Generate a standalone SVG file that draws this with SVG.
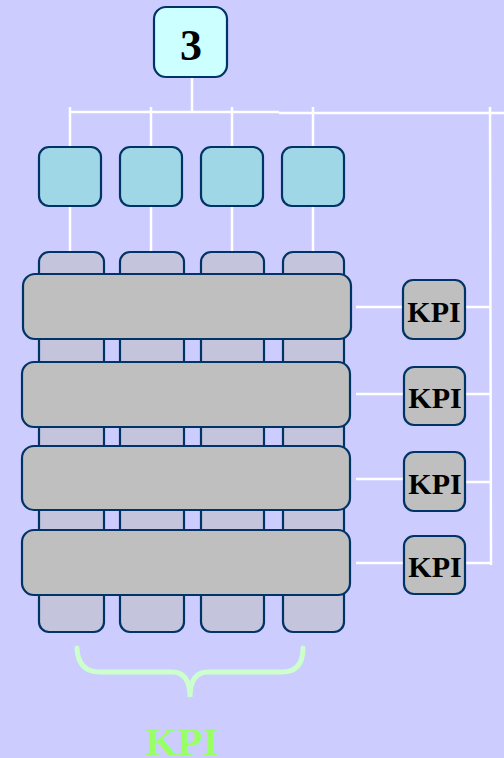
<svg xmlns="http://www.w3.org/2000/svg" width="504" height="758" viewBox="0 0 504 758">
<style>
.node{stroke:#003366;stroke-width:2.2}
.top{fill:#ccffff}
.blue{fill:#9fd7e6}
.col{fill:#c4c4dc}
.bar{fill:#bfbfbf}
.kpi{fill:#bfbfbf}
.wire{stroke:#ffffff;stroke-width:2.5;fill:none}
.t{font-family:"Liberation Serif","Times New Roman",serif;font-weight:bold;text-anchor:middle}
</style>
<rect x="0" y="0" width="504" height="758" fill="#ccccff"/>
<g id="connectors">
<path class="wire" d="M192 77V112M70 112H279M279 113H504M70 107V147M151 107V153M232 107V153M313 107V153M490 107L491 565"/>
<path class="wire" d="M70 206V253M151 206V253M232 206V253M313 206V253"/>
<path class="wire" d="M356 307H403M356 394H403M356 479H403M356 563H403"/>
<path class="wire" d="M458 307H490M458 394H490M458 482H490M458 563H490"/>
</g>
<g id="node-3"><rect class="node top" x="154" y="7" width="73" height="70" rx="12"/><text class="t" x="191" y="60" font-size="44">3</text></g>
<g id="node-b1"><rect class="node blue" x="39" y="147" width="62" height="59" rx="10"/></g>
<g id="node-b2"><rect class="node blue" x="120" y="147" width="62" height="59" rx="10"/></g>
<g id="node-b3"><rect class="node blue" x="201" y="147" width="62" height="59" rx="10"/></g>
<g id="node-b4"><rect class="node blue" x="282" y="147" width="62" height="59" rx="10"/></g>
<g id="node-c1"><rect class="node col" x="39" y="252" width="65" height="380" rx="10"/></g>
<g id="node-c2"><rect class="node col" x="120" y="252" width="64" height="380" rx="10"/></g>
<g id="node-c3"><rect class="node col" x="201" y="252" width="63" height="380" rx="10"/></g>
<g id="node-c4"><rect class="node col" x="283" y="252" width="61" height="380" rx="10"/></g>
<g id="node-r1"><rect class="node bar" x="23" y="274" width="328" height="65" rx="12"/></g>
<g id="node-r2"><rect class="node bar" x="22" y="362" width="328" height="65" rx="12"/></g>
<g id="node-r3"><rect class="node bar" x="22" y="446" width="328" height="64" rx="12"/></g>
<g id="node-r4"><rect class="node bar" x="22" y="530" width="328" height="65" rx="12"/></g>
<g id="node-k1"><rect class="node kpi" x="403" y="280" width="62" height="59" rx="10"/><text class="t" x="434" y="322" font-size="30">KPI</text></g>
<g id="node-k2"><rect class="node kpi" x="404" y="367" width="61" height="58" rx="10"/><text class="t" x="435" y="408" font-size="30">KPI</text></g>
<g id="node-k3"><rect class="node kpi" x="404" y="452" width="61" height="59" rx="10"/><text class="t" x="435" y="494" font-size="30">KPI</text></g>
<g id="node-k4"><rect class="node kpi" x="404" y="536" width="61" height="58" rx="10"/><text class="t" x="435" y="577" font-size="30">KPI</text></g>
<g id="brace"><path d="M77 648Q78 672 100 672H172Q190 672 190 697Q190 672 208 672H282Q303 672 303 648" fill="none" stroke="#ccffcc" stroke-width="5" stroke-linecap="round"/></g>
<text class="t" x="182" y="755" font-size="41" fill="#99ff66">KPI</text>
</svg>
